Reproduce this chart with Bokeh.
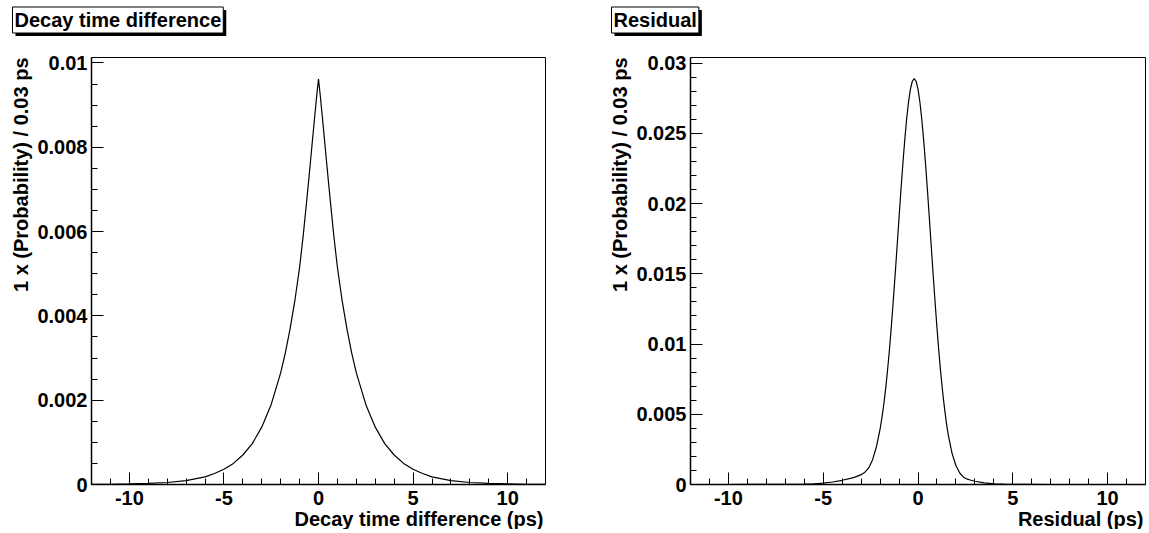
import math
from bokeh.plotting import figure
from bokeh.layouts import row, column
from bokeh.models import (Range1d, SingleIntervalTicker, CustomJSTickFormatter,
                          Label, Title)
from bokeh.embed import file_html
from bokeh.resources import INLINE

# ---------------- data ----------------
# Left panel: decay time difference (ps) vs probability per 0.03 ps
dt_x = [-12, -11, -10, -9, -8, -7, -6, -5.5, -5, -4.5, -4, -3.5, -3, -2.5, -2,
        -1.75, -1.5, -1.25, -1.0, -0.8, -0.6, -0.5, -0.4, -0.3, -0.2, -0.1, 0,
        0.1, 0.2, 0.3, 0.4, 0.5, 0.6, 0.8, 1.0, 1.25, 1.5, 1.75, 2, 2.5, 3,
        3.5, 4, 4.5, 5, 5.5, 6, 7, 8, 9, 10, 11, 12]
dt_y = [0.0000034, 0.0000065, 0.000013, 0.000025, 0.000048, 0.000094, 0.00018,
        0.00026, 0.00036, 0.00050, 0.00070, 0.00097, 0.00136, 0.00190, 0.00265,
        0.00313, 0.00370, 0.00436, 0.00515, 0.00594, 0.00684, 0.00730, 0.00778,
        0.00826, 0.00873, 0.00920, 0.00962,
        0.00920, 0.00873, 0.00826, 0.00778, 0.00730, 0.00684, 0.00594, 0.00515,
        0.00436, 0.00370, 0.00313, 0.00265, 0.00190, 0.00136, 0.00097, 0.00070,
        0.00050, 0.00036, 0.00026, 0.00018, 0.000094, 0.000048, 0.000025,
        0.000013, 0.0000065, 0.0000034]

# Right panel: residual (ps) vs probability per 0.03 ps
res_x = [-12, -11, -10, -9, -8, -7, -6, -5.5, -5.0, -4.5, -4.0, -3.5, -3.25,
         -3.0, -2.8, -2.6, -2.4, -2.2, -2.0, -1.9, -1.8, -1.7, -1.6, -1.5,
         -1.4, -1.3, -1.2, -1.1, -1.0, -0.9, -0.8, -0.7, -0.6, -0.5, -0.4,
         -0.3, -0.2, -0.1, 0.0, 0.1, 0.2, 0.3, 0.4, 0.5, 0.6, 0.7, 0.8, 0.9,
         1.0, 1.1, 1.2, 1.3, 1.4, 1.5, 1.6, 1.8, 2.0, 2.2, 2.4, 2.6, 2.8,
         3.0, 3.5, 4.0, 4.5, 5, 6, 7, 8, 9, 10, 11, 12]
res_y = [0.0, 0.0, 0.000001, 0.000002, 0.000004, 0.000009, 0.000025, 0.00005,
         0.0001, 0.00018, 0.00030, 0.00045, 0.00056,
         0.00070, 0.00088, 0.00118, 0.00175, 0.00265, 0.00395, 0.00478,
         0.00575, 0.00690, 0.00822, 0.00970,
         0.01135, 0.01315, 0.01505, 0.01700, 0.01900, 0.02095, 0.02280,
         0.02450, 0.02600, 0.02723, 0.02815,
         0.02871, 0.02890, 0.02871, 0.02815, 0.02723, 0.02600, 0.02450,
         0.02279, 0.02091, 0.01894, 0.01693, 0.01493, 0.01300,
         0.01116, 0.00946, 0.00795, 0.00660, 0.00540, 0.00437, 0.00350,
         0.00220, 0.00135, 0.00082, 0.00052, 0.00038, 0.00030,
         0.00023, 0.00012, 0.00005, 0.00002, 0.000008, 0.000002, 0.0, 0.0,
         0.0, 0.0, 0.0, 0.0]

x_range = (-12, 12)
left_ymax = 0.01013
right_ymax = 0.0304
left_title = "Decay time difference"
right_title = "Residual"
left_xlabel = "Decay time difference (ps)"
right_xlabel = "Residual (ps)"
ylabel = "1 x (Probability) / 0.03 ps"
left_y_interval = 0.002
right_y_interval = 0.005
x_interval = 5

FONT = "Liberation Sans"
FS = "20px"

fmt = CustomJSTickFormatter(code="return String(Number(tick.toFixed(6)));")


def make_panel(xs, ys, ymax, y_int, y_minor, xlabel,
               width, border_left, border_right):
    p = figure(width=width, height=479, output_backend="svg",
               toolbar_location=None,
               x_range=Range1d(*x_range), y_range=Range1d(0, ymax),
               min_border_left=border_left, min_border_right=border_right,
               min_border_top=7, min_border_bottom=45)
    p.title.visible = False
    p.background_fill_color = "white"
    p.border_fill_color = "white"
    p.outline_line_color = "black"
    p.outline_line_width = 1
    p.xgrid.visible = False
    p.ygrid.visible = False

    p.xaxis.ticker = SingleIntervalTicker(interval=x_interval, num_minor_ticks=5)
    p.yaxis.ticker = SingleIntervalTicker(interval=y_int, num_minor_ticks=y_minor)
    for ax in (p.xaxis[0], p.yaxis[0]):
        ax.formatter = fmt
        ax.axis_line_color = "black"
        ax.axis_line_width = 1.5
        ax.major_tick_line_color = "black"
        ax.minor_tick_line_color = "black"
        ax.major_tick_in = 12
        ax.major_tick_out = 0
        ax.minor_tick_in = 6
        ax.minor_tick_out = 0
        ax.major_label_text_font = FONT
        ax.major_label_text_font_style = "bold"
        ax.major_label_text_font_size = FS
        ax.major_label_text_color = "black"
    p.xaxis.major_label_standoff = 6
    p.yaxis.major_label_standoff = 4

    p.line(xs, ys, line_color="black", line_width=1.2)

    p.add_layout(Title(text=xlabel, align="right", text_font=FONT,
                       text_font_style="bold", text_font_size=FS,
                       text_color="black", standoff=-3, offset=2), "below")
    p.add_layout(Title(text=ylabel, align="right", text_font=FONT,
                       text_font_style="bold", text_font_size=FS,
                       text_color="black", standoff=6), "left")
    return p


# title strip: a figure whose data coordinates equal canvas pixels
tfig = figure(width=1149, height=50, output_backend="svg",
              toolbar_location=None, x_range=Range1d(0, 1149),
              y_range=Range1d(50, 0), x_axis_type=None, y_axis_type=None,
              min_border=0)
tfig.title.visible = False
tfig.outline_line_color = None
tfig.xgrid.visible = False
tfig.ygrid.visible = False
for tx, title in ((12, left_title), (611, right_title)):
    ty = 19.5
    tfig.add_layout(Label(x=tx + 3, y=ty + 3, text=title, text_font=FONT,
                          text_font_style="bold", text_font_size=FS,
                          text_align="left", text_baseline="middle",
                          text_color="black", background_fill_color="black",
                          padding=2))
    tfig.add_layout(Label(x=tx, y=ty, text=title, text_font=FONT,
                          text_font_style="bold", text_font_size=FS,
                          text_align="left", text_baseline="middle",
                          text_color="black", background_fill_color="white",
                          border_line_color="black", border_line_width=1,
                          padding=2))

p1 = make_panel(dt_x, dt_y, left_ymax, left_y_interval, 4, left_xlabel,
                width=600, border_left=91, border_right=55)
p2 = make_panel(res_x, res_y, right_ymax, right_y_interval, 5, right_xlabel,
                width=549, border_left=90, border_right=4)

layout = column(tfig, row(p1, p2))
open("out.html", "w").write(file_html(layout, INLINE))
